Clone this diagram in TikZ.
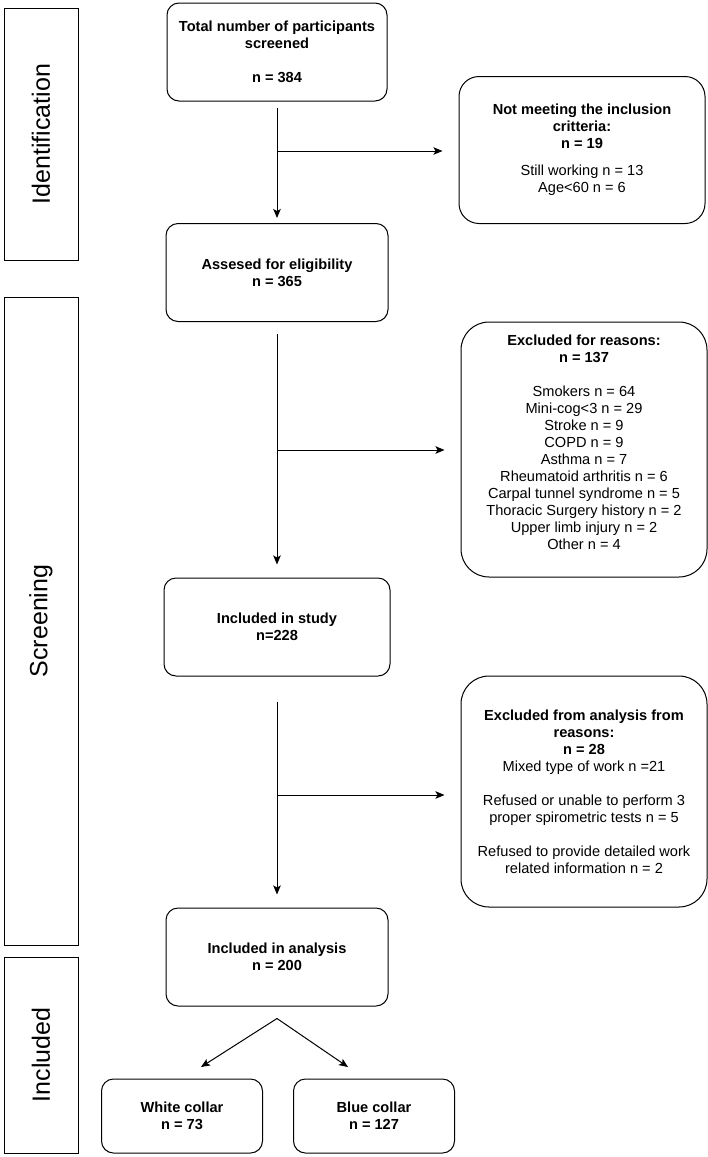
\documentclass[tikz,border=0pt]{standalone}
\usepackage{fontspec}
\setmainfont{Liberation Sans}
\usetikzlibrary{arrows.meta,calc}
\begin{document}
\begin{tikzpicture}[x=1pt,y=-1pt,
  box/.style={draw, line width=1pt, rounded corners=12pt, inner sep=0pt, align=center,
    font=\fontsize{14.6}{17}\selectfont},
  sidebox/.style={draw, line width=1pt, inner sep=0pt, rotate=90, minimum height=74pt,
    font=\fontsize{25}{30}\selectfont},
  arr/.style={line width=1pt, -{Stealth[length=9pt,width=7.5pt,inset=2pt]}}]
\useasboundingbox (0,0) rectangle (708,1157);

% side phase boxes
\node[sidebox, minimum width=252pt] (ident) at (41,134) {Identification};
\node[sidebox, minimum width=648pt] (screen) at (41,621) {Screening};
\node[sidebox, minimum width=196pt] (incl) at (41,1055) {Included};

% main column
\node[box, minimum width=220pt, minimum height=98pt] (total) at (277,52)
  {\textbf{Total number of participants}\\ \textbf{screened}\\[17pt] \textbf{n = 384}};
\node[box, minimum width=222pt, minimum height=98pt] (assessed) at (277,272.5)
  {\textbf{Assesed for eligibility}\\ \textbf{n = 365}};
\node[box, minimum width=226pt, minimum height=98pt] (study) at (277,627)
  {\textbf{Included in study}\\ \textbf{n=228}};
\node[box, minimum width=222pt, minimum height=98pt] (analysis) at (277,957)
  {\textbf{Included in analysis}\\ \textbf{n = 200}};
\node[box, minimum width=161pt, minimum height=74pt] (white) at (182,1116)
  {\textbf{White collar}\\ \textbf{n = 73}};
\node[box, minimum width=161pt, minimum height=74pt] (blue) at (374,1116)
  {\textbf{Blue collar}\\ \textbf{n = 127}};

% right column
\node[box, rounded corners=20pt, minimum width=246pt, minimum height=147pt] (notmeet) at (582,150)
  {\textbf{Not meeting the inclusion}\\ \textbf{critteria:}\\ \textbf{n = 19}\\[10pt]
   Still working n = 13\\ Age<60 n = 6};
\node[box, rounded corners=28pt, minimum width=246pt, minimum height=255pt] (excl) at (584,449.5)
  {\textbf{Excluded for reasons:}\\ \textbf{n = 137}\\[17pt]
   Smokers n = 64\\ Mini-cog<3 n = 29\\ Stroke n = 9\\ COPD n = 9\\ Asthma n = 7\\
   Rheumatoid arthritis n = 6\\ Carpal tunnel syndrome n = 5\\ Thoracic Surgery history n = 2\\
   Upper limb injury n = 2\\ Other n = 4\\[-3pt] \mbox{}};
\node[box, rounded corners=28pt, minimum width=246pt, minimum height=231pt] (exan) at (584,791.5)
  {\textbf{Excluded from analysis from}\\ \textbf{reasons:}\\ \textbf{n = 28}\\
   Mixed type of work n =21\\[17pt]
   Refused or unable to perform 3\\ proper spirometric tests n = 5\\[17pt]
   Refused to provide detailed work\\ related information n = 2};

% connectors
\draw[arr, shorten >=5pt] ([yshift=-6pt]total.south) -- (assessed.north);
\draw[arr, shorten >=13pt] ([yshift=-12pt]assessed.south) -- (study.north);
\draw[arr, shorten >=13pt] ([yshift=-25pt]study.south) -- (analysis.north);

\coordinate (b1) at (277,151);
\coordinate (b2) at (277,450);
\coordinate (b3) at (277,795);
\draw[arr, shorten >=16pt] (b1) -- (b1 -| notmeet.west);
\draw[arr, shorten >=16pt] (b2) -- (b2 -| excl.west);
\draw[arr, shorten >=16pt] (b3) -- (b3 -| exan.west);

\coordinate (apex) at ([yshift=-12pt]analysis.south);
\coordinate (tipL) at (201,1067);
\coordinate (tipR) at (348,1067);
\draw[arr] (apex) -- (tipL);
\draw[arr] (apex) -- (tipR);
\end{tikzpicture}
\end{document}
